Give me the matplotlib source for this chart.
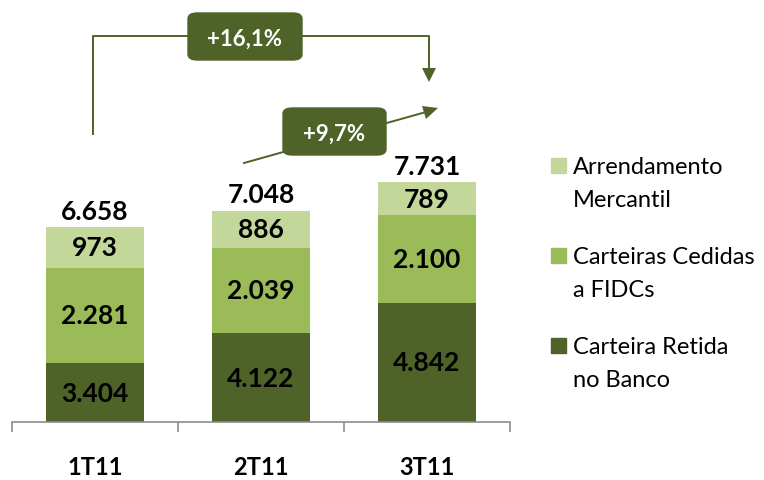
import matplotlib.pyplot as plt
from matplotlib.patches import Rectangle, FancyBboxPatch

# data
categories = ['1T11', '2T11', '3T11']
retida = [3404, 4122, 4842]
cedidas = [2281, 2039, 2100]
arrendamento = [973, 886, 789]
totais = [6658, 7048, 7731]
series_names = ['Arrendamento\nMercantil', 'Carteiras Cedidas\na FIDCs', 'Carteira Retida\nno Banco']
growth_labels = ['+16,1%', '+9,7%']

c_dark = '#4F6228'
c_mid = '#9BBB59'
c_light = '#C4D79B'
FONT = 'Lato'

W, H = 764, 481
fig = plt.figure(figsize=(W / 100, H / 100), dpi=100)


def px(x, y):
    """pixel (from top-left) -> figure fraction"""
    return x / W, 1 - y / H


ax = fig.add_axes([12 / W, 58 / H, 498 / W, 423 / H])
ax.set_xlim(-0.5, 2.5)
ax.set_ylim(2000, 12100)


def fmt(v):
    return f'{v:,}'.replace(',', '.')


xs = range(len(categories))
bw = 0.59
bottoms = [0] * 3
for vals, col in [(retida, c_dark), (cedidas, c_mid), (arrendamento, c_light)]:
    ax.bar(xs, vals, bw, bottom=bottoms, color=col, zorder=2)
    for i, v in enumerate(vals):
        lo = max(bottoms[i], 2000)
        mid = lo + (bottoms[i] + v - lo) / 2
        ax.text(i, mid, fmt(v), ha='center', va='center', fontsize=19,
                fontweight='bold', family=FONT, color='black')
    bottoms = [b + v for b, v in zip(bottoms, vals)]

for i, t in enumerate(totais):
    ax.annotate(fmt(t), (i, bottoms[i]), xytext=(0, 3), textcoords='offset points',
                ha='center', va='bottom', fontsize=19, fontweight='bold', family=FONT)

# axis styling
for s in ['top', 'right', 'left']:
    ax.spines[s].set_visible(False)
ax.spines['bottom'].set_color('#8C8C8C')
ax.spines['bottom'].set_linewidth(1.2)
ax.set_yticks([])
ax.set_xticks([-0.5, 0.5, 1.5, 2.5])
ax.set_xticklabels([])
ax.tick_params(axis='x', length=7, width=1.2, color='#8C8C8C', direction='out')
for i, c in enumerate(categories):
    ax.text(i, -0.105, c, transform=ax.get_xaxis_transform(), ha='center', va='center',
            fontsize=17, fontweight='bold', family=FONT)

# growth arrows
lw = 1.4
fig.add_artist(plt.Line2D(*zip(px(93, 135), px(93, 37), px(429, 37), px(429, 70)),
                          color=c_dark, lw=lw))
fig.add_artist(plt.Polygon([px(422, 69), px(436, 69), px(429, 83)], closed=True,
                           color=c_dark, lw=0))
fig.patches.append(FancyBboxPatch(px(188, 61), 114 / W, 47 / H,
                                  boxstyle='round,pad=0,rounding_size=0.012',
                                  transform=fig.transFigure, color=c_dark, zorder=3))
fig.text(*px(245, 39), growth_labels[0], ha='center', va='center', color='white',
         fontsize=16, fontweight='bold', family=FONT, zorder=4)

fig.add_artist(plt.Line2D(*zip(px(244, 164), px(426, 113)), color=c_dark, lw=lw))
fig.add_artist(plt.Polygon([px(438, 109), px(422, 107), px(426, 120)], closed=True,
                           color=c_dark, lw=0))
fig.patches.append(FancyBboxPatch(px(283, 156), 103 / W, 47 / H,
                                  boxstyle='round,pad=0,rounding_size=0.012',
                                  transform=fig.transFigure, color=c_dark, zorder=3))
fig.text(*px(334.5, 134), growth_labels[1], ha='center', va='center', color='white',
         fontsize=16, fontweight='bold', family=FONT, zorder=4)

# legend
for k, (name, col) in enumerate(zip(series_names, [c_light, c_mid, c_dark])):
    y0 = 159 + k * 90
    fig.patches.append(Rectangle(px(551, y0 + 15), 15 / W, 15 / H,
                                 transform=fig.transFigure, color=col))
    fig.text(*px(573, y0 - 2), name, ha='left', va='top', fontsize=17,
             family=FONT, linespacing=1.7)

fig.savefig('out.png', dpi=100)
